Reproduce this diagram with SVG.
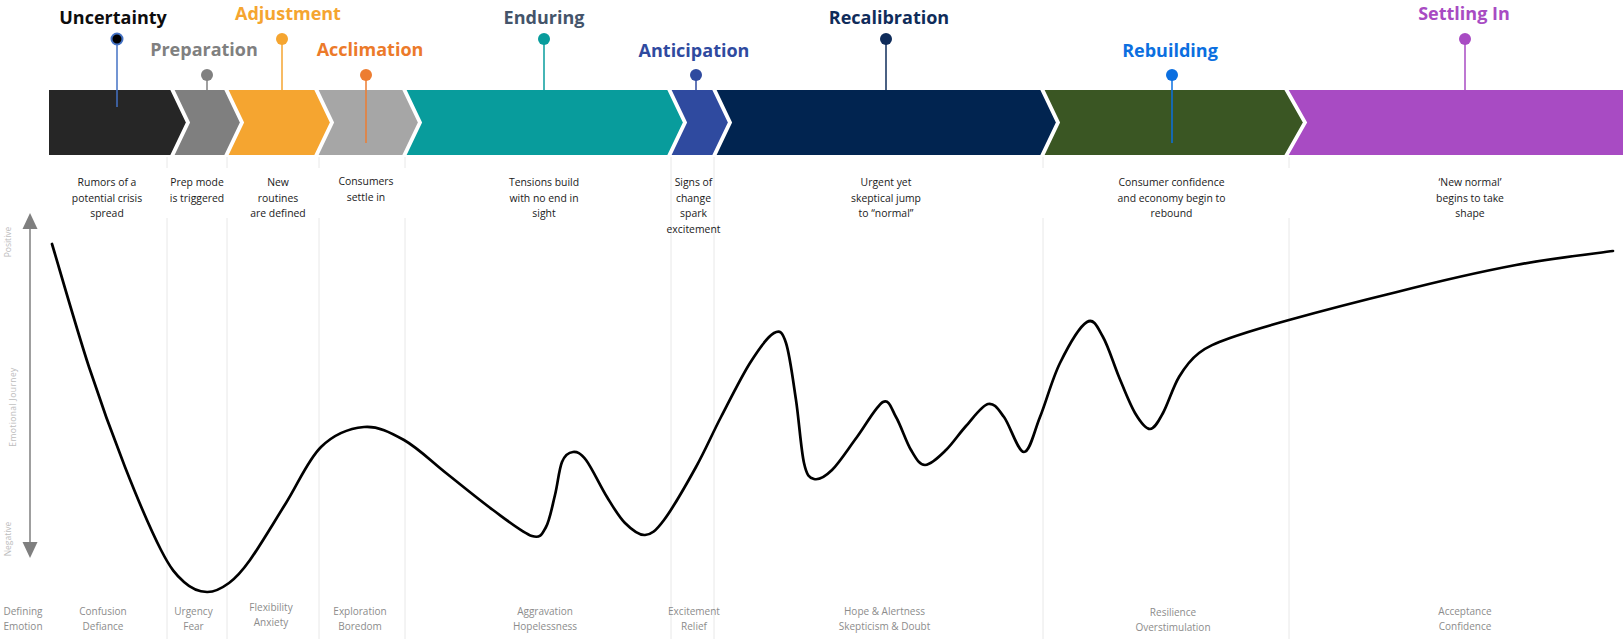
<svg xmlns="http://www.w3.org/2000/svg" width="1623" height="639" viewBox="0 0 1623 639">
  <style>
    .title { font-family: "Open Sans", "Liberation Sans", sans-serif; font-weight: 700; font-size: 18px; text-anchor: middle; }
    .desc { font-family: "Open Sans", "Liberation Sans", sans-serif; font-size: 10.4px; fill: #1a1a1a; text-anchor: middle; }
    .emo { font-family: "Open Sans", "Liberation Sans", sans-serif; font-size: 10px; fill: #8c8c8c; text-anchor: middle; }
    .axis-label { font-family: "Open Sans", "Liberation Sans", sans-serif; font-size: 8.5px; fill: #bdbdbd; text-anchor: middle; }
    .chev { stroke: #ffffff; stroke-width: 2; stroke-linejoin: miter; }
    .pin { stroke-width: 1.5; fill: none; }
    .sep { stroke: #e8e8e8; stroke-width: 1; }
  </style>

  <rect width="1623" height="639" fill="#ffffff"/>

  <!-- column separators -->
  <g id="separators">
    <line class="sep" x1="167" y1="157" x2="167" y2="168"/><line class="sep" x1="167" y1="218" x2="167" y2="639"/>
    <line class="sep" x1="227" y1="157" x2="227" y2="168"/><line class="sep" x1="227" y1="218" x2="227" y2="639"/>
    <line class="sep" x1="319" y1="157" x2="319" y2="168"/><line class="sep" x1="319" y1="218" x2="319" y2="639"/>
    <line class="sep" x1="405" y1="157" x2="405" y2="168"/><line class="sep" x1="405" y1="218" x2="405" y2="639"/>
    <line class="sep" x1="671" y1="157" x2="671" y2="639"/>
    <line class="sep" x1="714" y1="157" x2="714" y2="639"/>
    <line class="sep" x1="1043" y1="157" x2="1043" y2="168"/><line class="sep" x1="1043" y1="218" x2="1043" y2="639"/>
    <line class="sep" x1="1289" y1="157" x2="1289" y2="168"/><line class="sep" x1="1289" y1="218" x2="1289" y2="639"/>
  </g>

  <!-- vertical emotion axis -->
  <g id="axis">
    <line x1="30" y1="226" x2="30" y2="545" stroke="#7f7f7f" stroke-width="1.5"/>
    <polygon points="30,213 22.5,229 37.5,229" fill="#7f7f7f"/>
    <polygon points="30,558 22.5,542 37.5,542" fill="#7f7f7f"/>
    <text class="axis-label" transform="translate(11,242) rotate(-90)">Positive</text>
    <text class="axis-label" transform="translate(16,407) rotate(-90)" letter-spacing="0.4">Emotional Journey</text>
    <text class="axis-label" transform="translate(11,539) rotate(-90)">Negative</text>
    <text class="emo" x="23" y="615">Defining</text>
    <text class="emo" x="23" y="630">Emotion</text>
  </g>

  <!-- phases -->
  <g id="phase-uncertainty">
    <polygon class="chev" fill="#262626" points="48,89 171,89 187,122.5 171,156 48,156"/>
    <line class="pin" x1="117" y1="39" x2="117" y2="107" stroke="#4472c4"/>
    <circle cx="117" cy="39" r="5.5" fill="#000000" stroke="#4472c4" stroke-width="2"/>
    <text class="title" x="113" y="24" fill="#0d0d0d">Uncertainty</text>
    <text class="desc" x="107" y="186">Rumors of a</text>
    <text class="desc" x="107" y="201.5">potential crisis</text>
    <text class="desc" x="107" y="217">spread</text>
    <text class="emo" x="103" y="615">Confusion</text>
    <text class="emo" x="103" y="630">Defiance</text>
  </g>

  <g id="phase-preparation">
    <polygon class="chev" fill="#7f7f7f" points="173,89 225,89 241,122.5 225,156 173,156 189,122.5"/>
    <line class="pin" x1="207" y1="75" x2="207" y2="90" stroke="#808080"/>
    <circle cx="207" cy="75" r="6" fill="#808080"/>
    <text class="title" x="204" y="56" fill="#808080">Preparation</text>
    <text class="desc" x="197" y="186">Prep mode</text>
    <text class="desc" x="197" y="201.5">is triggered</text>
    <text class="emo" x="193.5" y="615">Urgency</text>
    <text class="emo" x="193.5" y="630">Fear</text>
  </g>

  <g id="phase-adjustment">
    <polygon class="chev" fill="#f5a530" points="227,89 315,89 331,122.5 315,156 227,156 243,122.5"/>
    <line class="pin" x1="282" y1="39" x2="282" y2="90" stroke="#f5a530"/>
    <circle cx="282" cy="39" r="6" fill="#f5a530"/>
    <text class="title" x="288" y="20" fill="#f5a530">Adjustment</text>
    <text class="desc" x="278" y="186">New</text>
    <text class="desc" x="278" y="201.5">routines</text>
    <text class="desc" x="278" y="217">are defined</text>
    <text class="emo" x="271" y="611">Flexibility</text>
    <text class="emo" x="271" y="626">Anxiety</text>
  </g>

  <g id="phase-acclimation">
    <polygon class="chev" fill="#a6a6a6" points="317,89 403,89 419,122.5 403,156 317,156 333,122.5"/>
    <line class="pin" x1="366" y1="75" x2="366" y2="143" stroke="#ed7d31"/>
    <circle cx="366" cy="75" r="6" fill="#ed7d31"/>
    <text class="title" x="370" y="56" fill="#ec7a2a">Acclimation</text>
    <text class="desc" x="366" y="185">Consumers</text>
    <text class="desc" x="366" y="200.5">settle in</text>
    <text class="emo" x="360" y="615">Exploration</text>
    <text class="emo" x="360" y="630">Boredom</text>
  </g>

  <g id="phase-enduring">
    <polygon class="chev" fill="#089c9c" points="405,89 668,89 684,122.5 668,156 405,156 421,122.5"/>
    <line class="pin" x1="544" y1="39" x2="544" y2="90" stroke="#089c9c"/>
    <circle cx="544" cy="39" r="6" fill="#089c9c"/>
    <text class="title" x="544" y="24" fill="#44546a">Enduring</text>
    <text class="desc" x="544" y="186">Tensions build</text>
    <text class="desc" x="544" y="201.5">with no end in</text>
    <text class="desc" x="544" y="217">sight</text>
    <text class="emo" x="545" y="615">Aggravation</text>
    <text class="emo" x="545" y="630">Hopelessness</text>
  </g>

  <g id="phase-anticipation">
    <polygon class="chev" fill="#2f4a9f" points="670,89 713,89 729,122.5 713,156 670,156 686,122.5"/>
    <line class="pin" x1="696" y1="75" x2="696" y2="90" stroke="#2f4a9f"/>
    <circle cx="696" cy="75" r="6" fill="#2f4a9f"/>
    <text class="title" x="694" y="57" fill="#2f4a9f">Anticipation</text>
    <text class="desc" x="693.5" y="186">Signs of</text>
    <text class="desc" x="693.5" y="201.5">change</text>
    <text class="desc" x="693.5" y="217">spark</text>
    <text class="desc" x="693.5" y="232.5">excitement</text>
    <text class="emo" x="694" y="615">Excitement</text>
    <text class="emo" x="694" y="630">Relief</text>
  </g>

  <g id="phase-recalibration">
    <polygon class="chev" fill="#012450" points="715,89 1041,89 1057,122.5 1041,156 715,156 731,122.5"/>
    <line class="pin" x1="886" y1="39" x2="886" y2="90" stroke="#0f2c5a"/>
    <circle cx="886" cy="39" r="6" fill="#0f2c5a"/>
    <text class="title" x="889" y="24" fill="#0f2c5a">Recalibration</text>
    <text class="desc" x="886" y="186">Urgent yet</text>
    <text class="desc" x="886" y="201.5">skeptical jump</text>
    <text class="desc" x="886" y="217">to “normal”</text>
    <text class="emo" x="884.5" y="615">Hope &amp; Alertness</text>
    <text class="emo" x="884.5" y="630">Skepticism &amp; Doubt</text>
  </g>

  <g id="phase-rebuilding">
    <polygon class="chev" fill="#3a5623" points="1043,89 1285,89 1304,122.5 1285,156 1043,156 1059,122.5"/>
    <line class="pin" x1="1172" y1="75" x2="1172" y2="143" stroke="#0b6fe0"/>
    <circle cx="1172" cy="75" r="6" fill="#0b6fe0"/>
    <text class="title" x="1170" y="57" fill="#0b6fe0">Rebuilding</text>
    <text class="desc" x="1171.5" y="186">Consumer confidence</text>
    <text class="desc" x="1171.5" y="201.5">and economy begin to</text>
    <text class="desc" x="1171.5" y="217">rebound</text>
    <text class="emo" x="1173" y="616">Resilience</text>
    <text class="emo" x="1173" y="631">Overstimulation</text>
  </g>

  <g id="phase-settling-in">
    <polygon class="chev" fill="#a84bc3" points="1287,89 1626,89 1626,156 1287,156 1306,122.5"/>
    <line class="pin" x1="1465" y1="39" x2="1465" y2="90" stroke="#a84bc3"/>
    <circle cx="1465" cy="39" r="6" fill="#a84bc3"/>
    <text class="title" x="1464" y="20" fill="#a84bc3">Settling In</text>
    <text class="desc" x="1470" y="186">‘New normal’</text>
    <text class="desc" x="1470" y="201.5">begins to take</text>
    <text class="desc" x="1470" y="217">shape</text>
    <text class="emo" x="1465" y="615">Acceptance</text>
    <text class="emo" x="1465" y="630">Confidence</text>
  </g>

  <!-- emotional journey curve -->
  <g id="journey-curve">
    <path fill="none" stroke="#000000" stroke-width="2.7" stroke-linecap="round" stroke-linejoin="round"
      d="M52,244 C58.2,264.5 76.8,329.8 89,367 C101.2,404.2 113,436.5 125,467 C137,497.5 151.2,530.8 161,550 C170.8,569.2 176.3,575 184,582 C191.7,589 199.5,591.8 207,592 C214.5,592.2 221.8,588.3 229,583 C236.2,577.7 240.5,573.3 250,560 C259.5,546.7 274.2,521.8 286,503 C297.8,484.2 308,459.7 321,447 C334,434.3 350.2,428.2 364,427 C377.8,425.8 390.3,432.3 404,440 C417.7,447.7 431.2,461.3 446,473 C460.8,484.7 478.7,499.5 493,510 C507.3,520.5 523.2,533.2 532,536 C540.8,538.8 542.2,533.8 546,527 C549.8,520.2 552.3,505.8 555,495 C557.7,484.2 559,469.2 562,462 C565,454.8 569,452.3 573,452 C577,451.7 580.3,452.5 586,460 C591.7,467.5 600.5,486.5 607,497 C613.5,507.5 618.7,516.7 625,523 C631.3,529.3 638.5,535.5 645,535 C651.5,534.5 655.5,531.3 664,520 C672.5,508.7 686.5,484.2 696,467 C705.5,449.8 712,434.3 721,417 C730,399.7 741.2,377 750,363 C758.8,349 768,336.3 774,333 C780,329.7 782.3,331.8 786,343 C789.7,354.2 793,380 796,400 C799,420 801,449.8 804,463 C807,476.2 809.3,477.8 814,479 C818.7,480.2 824.8,477 832,470 C839.2,463 848.5,448.3 857,437 C865.5,425.7 876.5,405.3 883,402 C889.5,398.7 891.3,409 896,417 C900.7,425 906.2,442 911,450 C915.8,458 919.2,465 925,465 C930.8,465 939.2,456.5 946,450 C952.8,443.5 959,433.7 966,426 C973,418.3 981.7,405.5 988,404 C994.3,402.5 998,409 1004,417 C1010,425 1018,452 1024,452 C1030,452 1034,431.8 1040,417 C1046,402.2 1052.2,378.8 1060,363 C1067.8,347.2 1079.8,326.3 1087,322 C1094.2,317.7 1097.7,327.8 1103,337 C1108.3,346.2 1113.7,364.3 1119,377 C1124.3,389.7 1129.8,404.3 1135,413 C1140.2,421.7 1145.3,429 1150,429 C1154.7,429 1158.2,421.7 1163,413 C1167.8,404.3 1173,387 1179,377 C1185,367 1190.5,359.5 1199,353 C1207.5,346.5 1215,343.5 1230,338 C1245,332.5 1261.2,327.7 1289,320 C1316.8,312.3 1359.2,301.2 1397,292 C1432.8,282.8 1480,271.8 1516,265 C1552,258.2 1596.8,253.3 1613,251"/>
  </g>
</svg>
